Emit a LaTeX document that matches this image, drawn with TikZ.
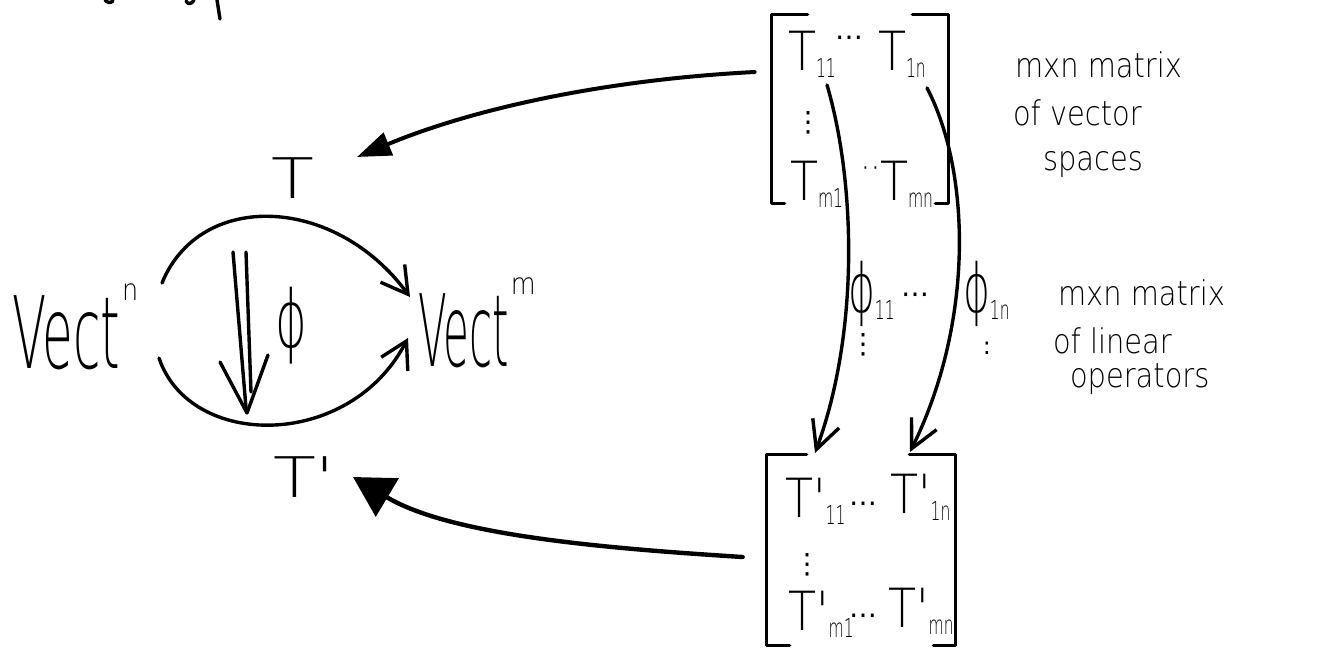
\documentclass[tikz,border=0pt]{standalone}
\usepackage{fontspec}
\usetikzlibrary{arrows.meta,calc}
% thin sans faces for the hand-lettered labels
\newfontfamily\handA{DejaVuSans-ExtraLight.ttf}[FakeStretch=0.85]
\newfontfamily\handW{DejaVuSans-ExtraLight.ttf}[FakeStretch=1.25]
\newfontfamily\handV{DejaVuSans-ExtraLight.ttf}[FakeStretch=0.5]
\newfontfamily\handU{DejaVuSans-ExtraLight.ttf}[FakeStretch=0.42]
\newfontfamily\handP{DejaVuSans-ExtraLight.ttf}[FakeStretch=0.6]
\newfontfamily\symf{DejaVu Sans}
\newcommand\fs[1]{\fontsize{#1}{#1}\selectfont}
\newcommand\lo[1]{\raisebox{-3.5pt}{\handP\fs{13}#1}}
\tikzset{
  lbl/.style={inner sep=0pt, outer sep=0pt},
  ink/.style={line width=1.7pt, line cap=round, line join=round},
  barb/.style={ink, -{Straight Barb[length=13pt,width=15pt]}},
  fat/.style={line width=2pt, line cap=round, -{Triangle[length=17pt,width=12pt]}},
  fatter/.style={line width=2.2pt, line cap=round, -{Triangle[length=20pt,width=22pt]}},
  entry/.style={lbl, anchor=base west, font=\handA\fs{27}},
  note/.style={lbl, anchor=base west, font=\handA\fs{17}},
  dots/.style={lbl, font=\symf\fs{14}},
  box/.style={draw=none, inner sep=0pt}
}
\begin{document}
\begin{tikzpicture}[x=0.5pt, y=-0.5pt]
\useasboundingbox (0,0) rectangle (1331,649);

% stray strokes along the top edge
\draw[ink] (105,0) .. controls (107,3) and (111,3) .. (113,1);
\draw[ink] (186,1) .. controls (188,5) and (192,4) .. (194,0);
\draw[ink] (217,0) .. controls (218,9) .. (220,19);

% the two functor categories and the 2-cell between them
\node[lbl, anchor=base west, font=\handV\fs{50}] (vn) at (12,368)
  {Vect\hspace{1pt}\raisebox{34pt}{\handA\fs{15}n}};
\node[lbl, anchor=base west, font=\handU\fs{50}] (vm) at (418,366)
  {Vect\hspace{1pt}\raisebox{36pt}{\handA\fs{15}m}};
\node[lbl, anchor=base, font=\handW\fs{28}] (T) at (293,198) {T};
\node[lbl, anchor=base west, font=\handW\fs{28}] (Tp) at (273,497) {T'};
\node[lbl, font=\handP\fs{40}] (phi) at (291,326) {ϕ};

\draw[barb] ($(vn.base west)+(150,-85)$) .. controls (200,190) and (335,195) ..
  ($(vm.base west)+(-8,-69)$);
\draw[barb] ($(vn.base west)+(147,-10)$) .. controls (190,450) and (350,450) ..
  ($(vm.base west)+(-10,-28)$);

\coordinate (d1a) at (233,252);
\coordinate (d1b) at (246,408);
\coordinate (d2a) at (246,252);
\coordinate (d2b) at (251,392);
\coordinate (dtip) at (247,413);
\coordinate (dl) at (220,362);
\coordinate (dr) at (268,355);
\draw[ink] (d1a) -- (d1b);
\draw[ink] (d2a) -- (d2b);
\draw[ink] (dl) -- (dtip) -- (dr);

% matrix of vector spaces
\node[box, minimum width=88pt, minimum height=94pt] (M1) at (860,109) {};
\draw[ink] ([xshift=18]M1.north west) -- (M1.north west) -- (M1.south west) -- ++(13,0);
\draw[ink] ([xshift=-18]M1.north east) -- (M1.north east) -- (M1.south east) -- ++(-13,0);
\node[entry] (t11) at (788,70) {T\lo{11}};
\node[entry] (t1n) at (878,70) {T\lo{1n}};
\node[entry] (tm1) at (790,200) {T\lo{m1}};
\node[entry] (tmn) at (880,200) {T\lo{mn}};
\node[dots, anchor=base west] (d11) at (835,46) {⋯};
\node[dots] (dv1) at (808,123) {⋮};
\node[lbl, font=\handA\fs{20}, anchor=base west] (dm1) at (860,181) {··};

% matrix of primed spaces
\node[box, minimum width=94pt, minimum height=95pt] (M2) at (861,550) {};
\draw[ink] ([xshift=20]M2.north west) -- (M2.north west) -- (M2.south west) -- ++(23,0);
\draw[ink] ([xshift=-23]M2.north east) -- (M2.north east) -- (M2.south east) -- ++(-22,0);
\node[entry] (p11) at (785,517) {T'\lo{11}};
\node[entry] (p1n) at (890,513) {T'\lo{1n}};
\node[entry] (pm1) at (788,630) {T'\lo{m1}};
\node[entry] (pmn) at (888,627) {T'\lo{mn}};
\node[dots, anchor=base west] (e11) at (849,512) {⋯};
\node[dots] (ev1) at (807,565) {⋮};
\node[dots, anchor=base west] (em1) at (849,624) {⋯};

% components of the transformation
\node[lbl, anchor=base west, font=\handP\fs{34}] (f11) at (848,312) {ϕ\lo{11}};
\node[lbl, anchor=base west, font=\handP\fs{34}] (f1n) at (963,312) {ϕ\lo{1n}};
\node[dots, anchor=base west] (g11) at (901,303) {⋯};
\node[dots] (gv1) at (863,345) {⋮};
\node[lbl, font=\symf\fs{12}] (gv2) at (987,348) {:};

\draw[barb, -{Straight Barb[length=14pt,width=14pt]}]
  ($(t11.base west)+(39,15)$) .. controls (855,180) and (860,330) ..
  ($(p11.base west)+(30,-64)$);
\draw[barb, -{Straight Barb[length=14pt,width=14pt]}]
  ($(t1n.base west)+(49,18)$) .. controls (970,170) and (975,320) ..
  ($(p1n.base west)+(20,-61)$);

% links from each matrix to its label
\draw[fat] ($(M1.west)+(-17,-37)$) .. controls (600,80) and (470,110) ..
  ($(T.base)+(64,-41)$);
\draw[fatter] ($(M2.west)+(-24,7)$) .. controls (600,548) and (450,535) ..
  ($(Tp.base west)+(80,-20)$);

% annotations
\node[note] (n1) at (1015,77) {mxn matrix};
\node[note] (n2) at (1013,125) {of vector};
\node[note] (n3) at (1043,170) {spaces};
\node[note] (n4) at (1058,305) {mxn matrix};
\node[note] (n5) at (1053,353) {of linear};
\node[note] (n6) at (1070,387) {operators};
\end{tikzpicture}
\end{document}
